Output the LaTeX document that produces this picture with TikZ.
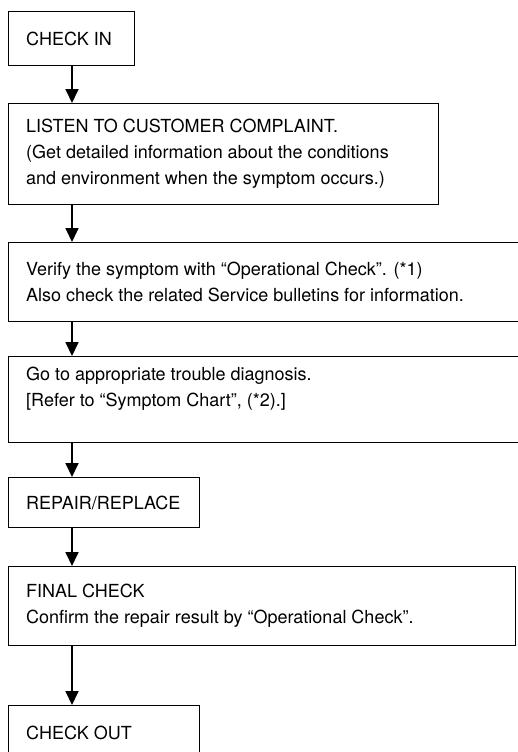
\documentclass[tikz,border=0pt]{standalone}
\usepackage{fontspec}
\setmainfont{TeX Gyre Heros}
\usetikzlibrary{positioning,arrows.meta}

\begin{document}
\begin{tikzpicture}[x=1pt,y=-1pt,
  box/.style={draw,line width=1.4pt,anchor=north west,inner sep=0pt},
  txt/.style={anchor=west,align=left,inner sep=0pt,font=\fontsize{18}{26}\selectfont},
  flow/.style={line width=1.8pt,-{Triangle[length=14pt,width=13pt]}}]
\useasboundingbox (0,0) rectangle (518,752);
\coordinate (spine) at (72,0);
% Frames of the steps
\node[box,minimum width=126pt,minimum height=54pt] (checkin) at (8,11) {};
\node[box,minimum width=430pt,minimum height=101pt] (listen) at (8,103) {};
\node[box,minimum width=530pt,minimum height=79pt] (verify) at (8,242) {};
\node[box,minimum width=530pt,minimum height=86pt] (diag) at (8,356) {};
\node[box,minimum width=191pt,minimum height=50pt] (repair) at (8,477) {};
\node[box,minimum width=507pt,minimum height=79pt] (final) at (8,566) {};
\node[box,minimum width=191pt,minimum height=54pt] (checkout) at (8,705) {};
% Texts of the steps
\node[txt] (checkin-t) at ([xshift=18pt]checkin.west) {CHECK IN};
\node[txt] (listen-t) at ([xshift=18pt]listen.west) {LISTEN TO CUSTOMER COMPLAINT.\\(Get detailed information about the conditions\\and environment when the symptom occurs.)};
\node[txt] (verify-t) at ([xshift=18pt]verify.west) {Verify the symptom with “Operational Check”. (*1)\\Also check the related Service bulletins for information.};
\node[txt] (diag-t) at ([xshift=18pt,yshift=11pt]diag.west) {Go to appropriate trouble diagnosis.\\{[Refer to “Symptom Chart”, (*2).]}};
\node[txt] (repair-t) at ([xshift=18pt]repair.west) {REPAIR/REPLACE};
\node[txt] (final-t) at ([xshift=18pt]final.west) {FINAL CHECK\\Confirm the repair result by “Operational Check”.};
\node[txt] (checkout-t) at ([xshift=18pt]checkout.west) {CHECK OUT};
% Flow
\draw[flow] (checkin.south -| spine) -- (listen.north -| spine);
\draw[flow] (listen.south -| spine) -- (verify.north -| spine);
\draw[flow] (verify.south -| spine) -- (diag.north -| spine);
\draw[flow] (diag.south -| spine) -- (repair.north -| spine);
\draw[flow] (repair.south -| spine) -- (final.north -| spine);
\draw[flow] (final.south -| spine) -- (checkout.north -| spine);
\end{tikzpicture}
\end{document}
